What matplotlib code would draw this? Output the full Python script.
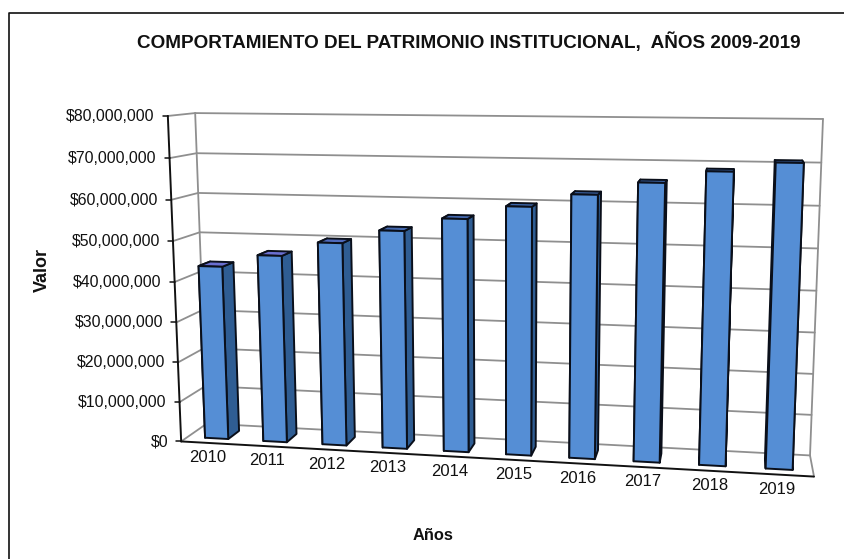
import numpy as np
import matplotlib
matplotlib.use('Agg')
import matplotlib.pyplot as plt
from matplotlib.patches import Polygon

plt.rcParams['font.family'] = ['Liberation Sans', 'DejaVu Sans']

years = ['2010','2011','2012','2013','2014','2015','2016','2017','2018','2019']
valores = [43.4, 46.5, 50, 53.3, 56.5, 59.7, 62.8, 65.8, 68.6, 70.8]   # millones
ticks = [0, 10, 20, 30, 40, 50, 60, 70, 80]
tick_labels = ['$0','$10,000,000','$20,000,000','$30,000,000','$40,000,000',
               '$50,000,000','$60,000,000','$70,000,000','$80,000,000']

# camera fit: (category, depth, millions) -> pixel of the box corners
mundo = [(0,1,0),(10,1,0),(10,1,80),(0,1,80),(0,0,0),(10,0,0),(0,0,80)]
pixel = [(207,424),(810,455),(823,119),(195,113),(181,441),(814,477),(168,116)]

A = []
for (x,d,v),(u,w) in zip(mundo,pixel):
    A.append([x,d,v,1,0,0,0,0,-u*x,-u*d,-u*v,-u])
    A.append([0,0,0,0,x,d,v,1,-w*x,-w*d,-w*v,-w])
P = np.linalg.svd(np.array(A,dtype=float))[2][-1].reshape(3,4)

def pr(x,d,v):
    q = P @ np.array([x,d,v,1.0])
    return (q[0]/q[2], q[1]/q[2])

fig = plt.figure(figsize=(8.45,5.59),dpi=100)
ax = fig.add_axes([0,0,1,1])
ax.set_xlim(0,845)
ax.set_ylim(559,0)
ax.axis('off')

# outer frame of the chart, open on the right and at the bottom
ax.plot([9,9,845],[559,13,13],color='#111111',lw=1.2)

gris = '#8f8f8f'
def linea(a,b,color=gris,lw=1.3,z=2):
    ax.plot([a[0],b[0]],[a[1],b[1]],color=color,lw=lw,solid_capstyle='round',zorder=z)

for t in ticks:
    linea(pr(0,0,t),pr(0,1,t))
    linea(pr(0,1,t),pr(10,1,t))
linea(pr(0,1,0),pr(0,1,80))
linea(pr(10,1,0),pr(10,1,80))
linea(pr(10,0,0),pr(10,1,0))

# bars
ancho = 0.40
d0, d1 = 0.25, 0.70
frente = '#558ed5'
lado = '#2f5d93'
arriba = ['#6a6fd0','#6a6fd0','#4f6abb','#4468ae','#4468ae','#3d66a8','#3d66a8','#3d66a8','#3d66a8','#3d66a8']
for i,v in enumerate(valores):
    x0 = i + 0.5 - ancho/2
    x1 = i + 0.5 + ancho/2
    caras = [
        ([(x0,d0,0),(x0,d1,0),(x0,d1,v),(x0,d0,v)], lado),
        ([(x1,d0,0),(x1,d1,0),(x1,d1,v),(x1,d0,v)], lado),
        ([(x0,d0,v),(x1,d0,v),(x1,d1,v),(x0,d1,v)], arriba[i]),
        ([(x0,d0,0),(x1,d0,0),(x1,d0,v),(x0,d0,v)], frente),
    ]
    for c,col in caras:
        ax.add_patch(Polygon([pr(*p) for p in c],closed=True,facecolor=col,
                             edgecolor='#0a0f1a',lw=1.4,joinstyle='round',zorder=3))

# front axes
linea(pr(0,0,0),pr(0,0,80),'#111111',1.4,4)
linea(pr(0,0,0),pr(10,0,0),'#111111',1.4,4)
for t,lab in zip(ticks,tick_labels):
    a = pr(0,0,t)
    linea((a[0]-5,a[1]),a,'#111111',1.1,4)
    ax.text(a[0]-13,a[1]+0.5,lab,ha='right',va='center',fontsize=11.4,color='#111111')

for i,y in enumerate(years):
    a = pr(i+0.5,0,0)
    ax.text(a[0]-2.5,a[1]+14.5,y,ha='center',va='center',fontsize=12,color='#111111')

ax.text(469,42,'COMPORTAMIENTO DEL PATRIMONIO INSTITUCIONAL,  AÑOS 2009-2019',ha='center',va='center',
        fontsize=13.6,fontweight='bold',color='#111111')
ax.text(42,270,'Valor',rotation=90,ha='center',va='center',fontsize=13,fontweight='bold',color='#111111')
ax.text(433,536,'Años',ha='center',va='center',fontsize=11.8,fontweight='bold',color='#111111')

plt.savefig('out.png',dpi=100)
